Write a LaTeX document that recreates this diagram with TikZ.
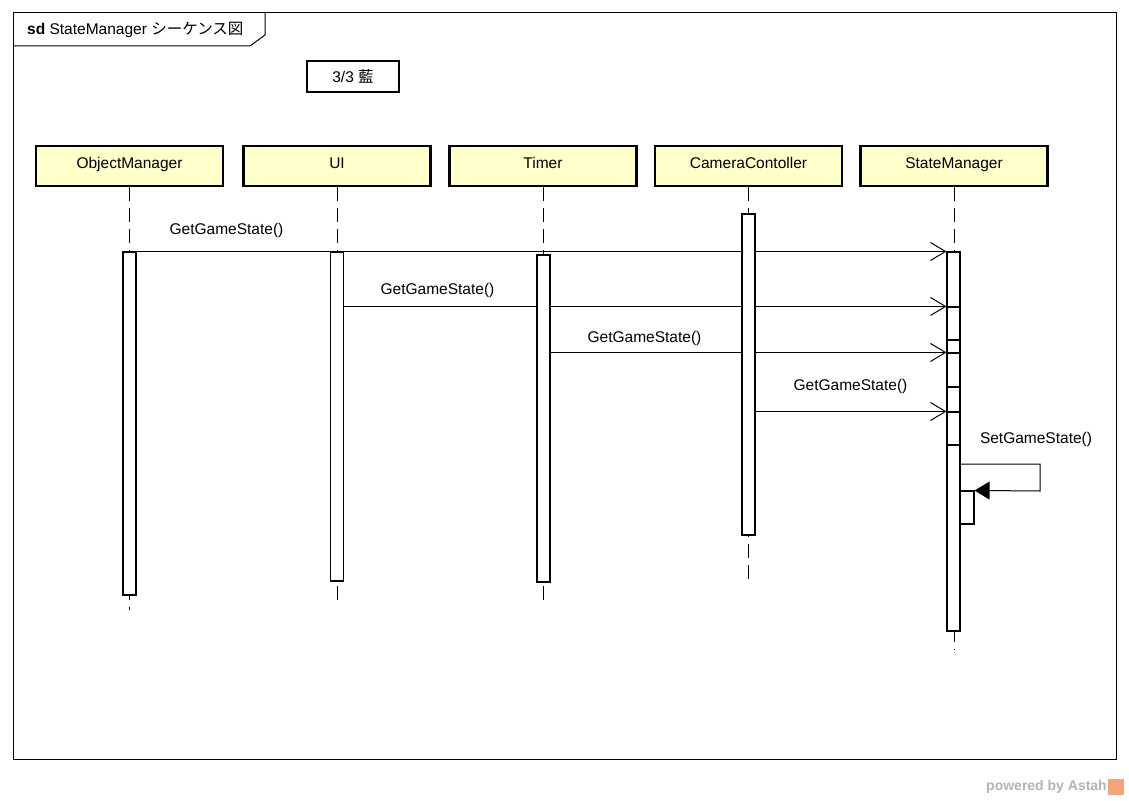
\documentclass[tikz,border=0pt]{standalone}
\usepackage{fontspec}
\setmainfont{Liberation Sans}
\newfontfamily\jpfont{Noto Sans CJK JP}
\usetikzlibrary{arrows.meta}
\definecolor{headfill}{RGB}{255,255,204}
\definecolor{markgray}{RGB}{180,180,180}
\definecolor{markorange}{RGB}{244,164,124}
\pgfdeclarelayer{bg}
\pgfsetlayers{bg,main}
\tikzset{
  frameline/.style={draw=black, line width=1pt},
  head/.style={draw=black, line width=2.2pt, fill=headfill, minimum width=187pt,
    minimum height=40pt, inner sep=0pt, text height=11pt, text depth=7pt,
    font=\fontsize{15.5}{18}\selectfont},
  act/.style={draw=black, line width=1.1pt, fill=white, minimum width=13pt, inner sep=0pt},
  lifeline/.style={draw=black, line width=1pt, dash pattern=on 14pt off 7pt},
  msg/.style={draw=black, line width=1pt, -{Straight Barb[length=15pt,width=18pt,line width=1pt]}},
  selfmsg/.style={draw=black, line width=1pt, -{Triangle[length=15pt,width=18pt]}},
  lbl/.style={inner sep=0pt, font=\fontsize{15.5}{18}\selectfont},
}
\begin{document}
\begin{tikzpicture}[x=1pt,y=-1pt]
\useasboundingbox (0,0) rectangle (1129,800);
\begin{pgfonlayer}{bg}
\fill[white] (0,0) rectangle (1129,800);
\end{pgfonlayer}

% diagram frame with its name tab
\draw[frameline] (13,13) rectangle (1116,759);
\draw[frameline] (13,46) -- (250,46) -- (265,35) -- (265,13);
\node[lbl, anchor=west] (title) at (27,30) {\textbf{sd} StateManager {\jpfont シーケンス図}};

% note
\node[draw=black, line width=2.5pt, minimum width=92pt, minimum height=31pt, inner sep=0pt,
  font=\fontsize{15.5}{18}\selectfont] (note) at (353,76.5) {3/3 {\jpfont 藍}};

% lifeline heads
\node[head] (om) at (129.5,166) {ObjectManager};
\node[head] (ui) at (337,166) {UI};
\node[head] (tm) at (543,166) {Timer};
\node[head] (cc) at (748.5,166) {CameraContoller};
\node[head] (sm) at (954,166) {StateManager};

% activation bars
\node[act, minimum height=343pt] (aom) at (129.5,423.5) {};
\node[act, minimum height=329pt] (aui) at (337,416.5) {};
\node[act, minimum height=327pt] (atm) at (543.5,418.5) {};
\node[act, minimum height=321pt] (acc) at (748.5,374.5) {};
\node[act, minimum height=379pt] (asm) at (953.5,441.5) {};
\node[act, minimum height=33pt] (sm2) at (953.5,323.5) {};
\node[act, minimum height=34pt] (sm3) at (953.5,370) {};
\node[act, minimum height=33pt] (sm4) at (953.5,428.5) {};
\node[act, minimum width=14pt, minimum height=33pt] (sm5) at (967,507.5) {};

\begin{pgfonlayer}{bg}
% lifelines
\draw[lifeline] (om.south) -- (om.south |- 0,610);
\draw[lifeline] (ui.south) -- (ui.south |- 0,600);
\draw[lifeline] (tm.south) -- (tm.south |- 0,600);
\draw[lifeline] (cc.south) -- (cc.south |- 0,585);
\draw[lifeline] (sm.south) -- (sm.south |- 0,650);

% messages
\draw[msg] (aom.north east) -- (asm.north west);
\draw[msg] (aui.east |- sm2.north) -- (sm2.north west);
\draw[msg] (atm.east |- sm3.north) -- (sm3.north west);
\draw[msg] (acc.east |- sm4.north) -- (sm4.north west);
\end{pgfonlayer}
\draw[selfmsg] (asm.east |- 0,464) -- (1040,464) -- (1040,491) -- (sm5.north east);

% message labels
\node[lbl] (l1) at (226.5,230) {GetGameState()};
\node[lbl] (l2) at (437.5,290) {GetGameState()};
\node[lbl] (l3) at (644.5,338) {GetGameState()};
\node[lbl] (l4) at (850.5,386) {GetGameState()};
\node[lbl] (l5) at (1036,439) {SetGameState()};

% tool mark
\node[inner sep=0pt, anchor=east, text=markgray, font=\fontsize{14}{16}\selectfont\bfseries] (mark) at (1107,787) {powered by Astah};
\fill[markorange] (1108,779) rectangle (1124,795);
\end{tikzpicture}
\end{document}
